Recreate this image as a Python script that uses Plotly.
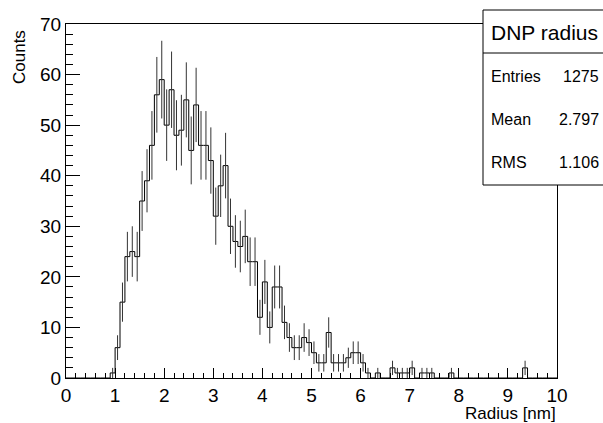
import numpy as np
import plotly.graph_objects as go

# Histogram "DNP radius": 100 bins of width 0.1 between 0 and 10 (left edges 0.0 ... 9.9)
x_min, x_max, n_bins = 0.0, 10.0, 100
counts = [
    0, 0, 0, 0, 0, 0, 0, 0, 0, 1,
    6, 15, 24, 25, 24, 35, 39, 46, 56, 59,
    50, 57, 48, 49, 55, 45, 54, 46, 46, 43,
    32, 38, 42, 30, 27, 26, 28, 23, 23, 12,
    19, 10, 18, 18, 11, 8, 6, 6, 8, 7,
    5, 3, 3, 9, 3, 3, 3, 4, 5, 5,
    3, 1, 0, 1, 0, 0, 2, 1, 1, 1,
    2, 0, 1, 1, 1, 0, 0, 0, 1, 0,
    0, 0, 0, 0, 0, 0, 0, 0, 0, 0,
    0, 0, 0, 2, 0, 0, 0, 0, 0, 0,
]
stats_title = "DNP radius"
stats_labels = ["Entries", "Mean", "RMS"]
stats_values = ["1275", "2.797", "1.106"]
x_title = "Radius [nm]"
y_title = "Counts"

edges = np.linspace(x_min, x_max, n_bins + 1)
centers = 0.5 * (edges[:-1] + edges[1:])
cnt = np.array(counts, dtype=float)
errs = np.sqrt(cnt)

FONT = "Liberation Sans, Arial, Helvetica, sans-serif"

fig = go.Figure()
# histogram outline
fig.add_trace(go.Scatter(
    x=edges, y=list(cnt) + [cnt[-1]], mode="lines",
    line=dict(shape="hv", color="black", width=1),
    hoverinfo="skip", showlegend=False))
# error bars
fig.add_trace(go.Scatter(
    x=centers, y=cnt, mode="markers",
    marker=dict(size=1, color="black", opacity=0),
    error_y=dict(type="data", array=errs, width=0, thickness=1, color="#333"),
    hoverinfo="skip", showlegend=False))

W, H = 603, 423
L, R, T, B = 66, 557, 24, 378


def px(xp):
    return (xp - L) / (R - L)


def py(yp):
    return (B - yp) / (B - T)


fig.update_layout(
    width=W, height=H,
    margin=dict(l=L, r=W - R, t=T, b=H - B),
    paper_bgcolor="white", plot_bgcolor="white",
    font=dict(family=FONT, color="black", size=18),
    showlegend=False,
    xaxis=dict(range=[x_min, x_max], showgrid=False, zeroline=False,
               showline=True, linecolor="black", linewidth=1, mirror=True,
               ticks="inside", ticklen=10, tickwidth=1, tickcolor="black",
               dtick=1, tick0=0, tickfont=dict(size=19),
               minor=dict(ticks="inside", ticklen=5, dtick=0.2, tickcolor="black", showgrid=False)),
    yaxis=dict(range=[0, 70], showgrid=False, zeroline=False,
               showline=True, linecolor="black", linewidth=1, mirror=True,
               ticks="inside", ticklen=14, tickwidth=1, tickcolor="black",
               dtick=10, tick0=0, tickfont=dict(size=19),
               minor=dict(ticks="inside", ticklen=7, dtick=2, tickcolor="black", showgrid=False)),
)

# stats box
bx0, bx1, by_top, by_bot, by_sep = 483, 606, 10, 185, 53
fig.add_shape(type="rect", xref="paper", yref="paper",
              x0=px(bx0), x1=px(bx1), y0=py(by_bot), y1=py(by_top),
              line=dict(color="black", width=1), fillcolor="white", layer="above")
fig.add_shape(type="line", xref="paper", yref="paper",
              x0=px(bx0), x1=px(bx1), y0=py(by_sep), y1=py(by_sep),
              line=dict(color="black", width=1), layer="above")

annotations = [
    dict(text=stats_title, x=px(544), y=py(32), xanchor="center", yanchor="middle",
         font=dict(size=21)),
]
row_y = [76, 119, 162]
for lab, val, yy in zip(stats_labels, stats_values, row_y):
    annotations.append(dict(text=lab, x=px(489), y=py(yy), xanchor="left", yanchor="middle",
                            font=dict(size=16)))
    annotations.append(dict(text=val, x=px(601), y=py(yy), xanchor="right", yanchor="middle",
                            font=dict(size=16)))
annotations.append(dict(text=x_title, x=px(558), y=py(413), xanchor="right", yanchor="middle",
                        font=dict(size=17)))
annotations.append(dict(text=y_title, x=px(20), y=py(57), xanchor="center", yanchor="middle",
                        textangle=-90, font=dict(size=17)))
for a in annotations:
    a.update(xref="paper", yref="paper", showarrow=False)
fig.update_layout(annotations=annotations)

fig.write_html("out.html")
